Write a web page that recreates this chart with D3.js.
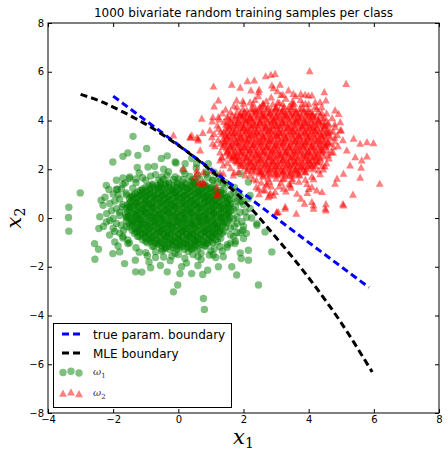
<!DOCTYPE html>
<html>
<head>
<meta charset="utf-8">
<script src="https://cdn.jsdelivr.net/npm/d3@7"></script>
<style>
  body { margin: 0; background: #fff; }
  text { font-family: "DejaVu Sans", sans-serif; }
</style>
</head>
<body>
<svg id="chart"></svg>
<script>
// tick values
const xTicks = [-4, -2, 0, 2, 4, 6, 8];
const yTicks = [-8, -6, -4, -2, 0, 2, 4, 6, 8];

// decision boundaries
const trueX = [-2.0, 5.85];
const trueY = [5.0, -2.85];
const mleX = [-3.0, -2.5, -2.0, -1.0, 0.0, 1.0, 2.0, 3.0, 4.0, 5.0, 5.95];
const mleY = [5.07, 4.85, 4.55, 3.85, 2.98, 1.95, 0.72, -0.8, -2.45, -4.3, -6.32];

// class omega_1 (green circles): scattered samples
const class1 = [
  [-1.2,1.85],[-0.7,1.78],[-0.3,1.9],[0.2,1.82],[0.6,1.75],[1.1,1.88],
  [-1.5,1.62],[-1.0,1.55],[-0.5,1.68],[0.0,1.6],[0.4,1.52],[0.9,1.65],[1.3,1.58],
  [-1.7,1.38],[-1.3,1.45],[-0.8,1.35],[-0.4,1.42],[0.1,1.33],[0.5,1.46],[0.8,1.37],[1.2,1.44],[1.6,1.32],
  [-1.9,1.18],[-1.4,1.22],[-1.1,1.12],[-0.6,1.25],[-0.2,1.15],[0.3,1.21],[0.7,1.1],[1.0,1.24],[1.4,1.16],[1.7,1.08],
  [-2.0,0.98],[-1.6,1.03],[-1.2,0.94],[-0.9,1.02],[-0.5,0.95],[-0.1,1.05],[0.2,0.92],[0.6,1.0],[0.9,0.9],[1.3,1.04],[1.6,0.96],[1.9,0.88],
  [-1.8,0.78],[-1.4,0.84],[-1.0,0.74],[-0.7,0.82],[-0.3,0.76],[0.0,0.85],[0.4,0.72],[0.8,0.8],[1.1,0.73],[1.5,0.83],[1.8,0.7],
  [-2.1,0.6],[-1.7,0.55],[-1.3,0.63],[-0.9,0.57],[-0.5,0.64],[-0.2,0.53],[0.2,0.62],[0.5,0.55],[0.9,0.65],[1.2,0.52],[1.6,0.6],[2.0,0.55],
  [-1.9,0.38],[-1.5,0.44],[-1.1,0.35],[-0.8,0.42],[-0.4,0.33],[-0.1,0.45],[0.3,0.36],[0.7,0.43],[1.0,0.32],[1.4,0.4],[1.7,0.34],
  [-2.2,0.18],[-1.8,0.24],[-1.3,0.15],[-1.0,0.22],[-0.6,0.14],[-0.3,0.25],[0.1,0.17],[0.4,0.23],[0.8,0.12],[1.1,0.2],[1.5,0.16],[1.9,0.24],
  [-2.0,-0.02],[-1.6,0.04],[-1.2,-0.05],[-0.8,0.03],[-0.5,-0.04],[-0.1,0.05],[0.2,-0.03],[0.6,0.04],[0.9,-0.06],[1.3,0.02],[1.7,-0.04],[2.1,0.03],
  [-1.9,-0.22],[-1.4,-0.16],[-1.1,-0.25],[-0.7,-0.17],[-0.3,-0.24],[0.0,-0.15],[0.4,-0.23],[0.7,-0.14],[1.1,-0.26],[1.5,-0.18],[1.8,-0.22],
  [-2.0,-0.42],[-1.6,-0.36],[-1.2,-0.45],[-0.9,-0.37],[-0.5,-0.44],[-0.2,-0.35],[0.2,-0.43],[0.5,-0.34],[0.9,-0.46],[1.2,-0.38],[1.6,-0.42],[2.0,-0.35],
  [-1.8,-0.62],[-1.3,-0.56],[-1.0,-0.65],[-0.6,-0.57],[-0.3,-0.64],[0.1,-0.55],[0.4,-0.66],[0.8,-0.58],[1.1,-0.63],[1.4,-0.55],[1.8,-0.6],
  [-1.7,-0.82],[-1.2,-0.76],[-0.8,-0.85],[-0.4,-0.77],[0.0,-0.84],[0.3,-0.75],[0.6,-0.86],[1.0,-0.78],[1.3,-0.83],[1.7,-0.76],
  [-1.5,-1.02],[-1.0,-0.96],[-0.6,-1.05],[-0.2,-0.97],[0.2,-1.04],[0.5,-0.95],[0.9,-1.06],[1.2,-0.98],[1.6,-1.03],
  [-1.3,-1.22],[-0.8,-1.16],[-0.4,-1.25],[0.0,-1.17],[0.4,-1.24],[0.8,-1.15],[1.1,-1.26],[1.5,-1.2],
  [-1.0,-1.42],[-0.5,-1.36],[-0.1,-1.45],[0.3,-1.37],[0.7,-1.44],[1.0,-1.35],
  [-0.7,-1.62],[-0.2,-1.56],[0.2,-1.65],[0.6,-1.58],
  [-1.39,3.35],[-0.97,2.85],[-1.55,2.67],[-1.70,2.53],[-1.24,2.57],[-2.01,2.30],[-1.26,2.07],[-0.34,2.55],
  [-0.52,2.44],[-3.01,1.03],[-2.21,1.34],[-2.37,0.73],[-1.90,1.55],[-1.70,1.64],[-2.13,1.17],[-2.31,0.52],
  [-0.93,2.09],[-0.73,2.12],[-1.49,1.68],[-1.87,1.17],[-1.63,1.44],[-0.07,2.26],
  [-3.36,0.44],[-3.37,0.02],[-3.36,-0.54],[-2.44,-0.43],[-2.57,-1.05],[-2.45,-1.28],[-2.56,-1.69],[-1.65,-1.87],
  [-1.32,-1.73],[-1.31,-2.21],[-1.12,-2.22],[-0.85,-2.04],[-0.34,-2.21],[-2.01,-1.46],[-2.11,-0.70],[-1.95,-0.98],
  [-2.21,-0.16],[-2.41,0.05],[-1.80,-1.39],[-1.55,-1.05],
  [0.77,-3.30],[0.80,-3.75],[-0.02,-2.75],[-0.15,-3.03],[2.46,-2.75],[1.79,-2.34],[1.64,-2.0],[2.15,-1.73],
  [2.15,-1.32],[0.41,-2.28],[0.05,-2.28],[2.87,-1.39],[2.41,-0.30],[2.66,-0.57],[0.75,-2.32],[0.90,-2.14],
  [1.23,-2.0],[1.74,-1.05],[1.90,-1.43],[1.93,-1.66],[1.38,-1.59],[1.28,-1.18],[1.07,-1.52],
  [2.0,-0.84],[2.41,-0.23],[1.98,-0.5],[2.09,-0.63],
  [-0.10,2.30],[0.21,2.23],[0.56,2.23],[0.87,1.89],[1.07,1.55],[1.38,1.41],[1.90,1.82],[2.15,1.48],
  [2.20,0.93],[2.15,0.80],[1.90,0.66],[2.20,0.39],[0.41,2.44],[0.92,2.23]
];

// class omega_1 samples around the edge of the dense part
const class1Ring = [
  [-1.1,1.65],[-0.85,1.72],[-0.6,1.55],[-0.35,1.75],[-0.1,1.68],[0.15,1.95],[0.35,1.7],[0.65,1.6],
  [0.85,1.8],[1.05,1.55],[1.25,1.72],[-0.45,2.0],[0.55,2.05],[-1.3,1.6],[1.45,1.45],
  [-1.75,1.2],[-1.85,0.95],[-1.95,0.7],[-1.72,0.45],[-2.05,0.3],[-1.8,0.1],[-2.1,-0.1],[-1.75,-0.3],
  [-1.95,-0.55],[-1.7,-0.75],[-1.55,-0.9],[-1.85,-1.15],[-2.25,0.85],[-2.3,-0.35],[-1.6,0.95],[-1.68,-0.5],
  [1.72,1.25],[1.85,1.0],[1.7,0.8],[1.95,0.7],[1.75,0.45],[2.05,0.25],[1.8,0.05],[1.95,-0.15],
  [1.72,-0.35],[1.9,-0.6],[1.6,-0.7],[1.75,-0.95],[1.5,-1.1],[1.35,-1.35],[2.25,0.0],
  [-1.2,-1.4],[-0.95,-1.55],[-0.7,-1.38],[-0.45,-1.6],[-0.25,-1.75],[0.0,-1.5],[0.25,-1.85],[0.45,-1.5],
  [0.7,-1.7],[0.95,-1.52],[1.15,-1.62],[-0.9,-1.8],[0.1,-2.0],[-0.55,-1.95],[0.6,-1.95]
];

// class omega_1 dense core, row by row (y value, then the x values on that row)
const class1CoreY = [1.45, 1.32, 1.19, 1.06, 0.93, 0.80, 0.67, 0.54, 0.41, 0.28, 0.15, 0.02,
  -0.11, -0.24, -0.37, -0.50, -0.63, -0.76, -0.89, -1.02, -1.15, -1.28,
  1.58, 1.39, 1.26, 1.13, 1.00, 0.87, 0.74, 0.61, 0.48, 0.35, 0.22, 0.09,
  -0.04, -0.17, -0.30, -0.43, -0.56, -0.69, -0.82, -0.95, -1.08, -1.21];
const class1CoreX = [
  [-0.55,-0.3,-0.05,0.2,0.45],
  [-0.9,-0.63,-0.4,-0.14,0.1,0.37,0.6,0.86],
  [-1.1,-0.86,-0.62,-0.41,-0.17,0.05,0.28,0.5,0.73,0.94,1.12],
  [-1.26,-1.02,-0.79,-0.57,-0.36,-0.12,0.11,0.33,0.54,0.78,1.0,1.21],
  [-1.4,-1.16,-0.95,-0.73,-0.49,-0.28,-0.06,0.18,0.39,0.62,0.86,1.07,1.3],
  [-1.5,-1.28,-1.04,-0.82,-0.61,-0.37,-0.15,0.08,0.29,0.53,0.74,0.98,1.19,1.42],
  [-1.46,-1.21,-1.0,-0.77,-0.55,-0.34,-0.1,0.12,0.36,0.57,0.81,1.02,1.24,1.48],
  [-1.56,-1.33,-1.1,-0.87,-0.66,-0.42,-0.2,0.03,0.24,0.48,0.69,0.93,1.14,1.37,1.58],
  [-1.6,-1.38,-1.15,-0.93,-0.7,-0.48,-0.26,-0.03,0.19,0.42,0.64,0.87,1.09,1.32,1.55],
  [-1.55,-1.31,-1.09,-0.86,-0.64,-0.41,-0.19,0.04,0.26,0.49,0.71,0.94,1.16,1.39,1.61],
  [-1.62,-1.4,-1.17,-0.95,-0.72,-0.5,-0.27,-0.05,0.18,0.4,0.63,0.85,1.08,1.3,1.53],
  [-1.57,-1.34,-1.12,-0.89,-0.67,-0.44,-0.22,0.01,0.23,0.46,0.68,0.91,1.13,1.36,1.58],
  [-1.6,-1.37,-1.15,-0.92,-0.7,-0.47,-0.25,-0.02,0.2,0.43,0.65,0.88,1.1,1.33,1.55],
  [-1.52,-1.3,-1.07,-0.85,-0.62,-0.4,-0.17,0.05,0.28,0.5,0.73,0.95,1.18,1.4],
  [-1.48,-1.25,-1.03,-0.8,-0.58,-0.35,-0.13,0.1,0.32,0.55,0.77,1.0,1.22,1.45],
  [-1.42,-1.2,-0.97,-0.75,-0.52,-0.3,-0.07,0.15,0.38,0.6,0.83,1.05,1.28],
  [-1.35,-1.12,-0.9,-0.67,-0.45,-0.22,0.0,0.23,0.45,0.68,0.9,1.13,1.35],
  [-1.25,-1.02,-0.8,-0.57,-0.35,-0.12,0.1,0.33,0.55,0.78,1.0,1.23],
  [-1.1,-0.87,-0.65,-0.42,-0.2,0.03,0.25,0.48,0.7,0.93,1.15],
  [-0.95,-0.72,-0.5,-0.27,-0.05,0.18,0.4,0.63,0.85,1.05],
  [-0.75,-0.52,-0.3,-0.07,0.15,0.38,0.6,0.83],
  [-0.5,-0.27,-0.05,0.18,0.4,0.6],
  [-0.45,-0.15,0.15,0.45],
  [-0.8,-0.55,-0.28,-0.02,0.24,0.5,0.74],
  [-1.0,-0.75,-0.52,-0.29,-0.06,0.16,0.39,0.62,0.84,1.04],
  [-1.17,-0.94,-0.71,-0.48,-0.25,-0.02,0.21,0.44,0.66,0.88,1.12,1.3],
  [-1.33,-1.1,-0.87,-0.64,-0.41,-0.18,0.05,0.28,0.5,0.72,0.95,1.17,1.38],
  [-1.45,-1.22,-0.99,-0.76,-0.53,-0.3,-0.07,0.16,0.39,0.61,0.84,1.06,1.29,1.5],
  [-1.38,-1.15,-0.92,-0.69,-0.46,-0.23,0.0,0.23,0.46,0.69,0.92,1.14,1.36,1.56],
  [-1.5,-1.27,-1.04,-0.81,-0.58,-0.35,-0.12,0.11,0.34,0.57,0.8,1.03,1.26,1.5],
  [-1.46,-1.23,-1.0,-0.77,-0.54,-0.31,-0.08,0.15,0.38,0.61,0.84,1.07,1.3,1.52],
  [-1.5,-1.27,-1.04,-0.81,-0.58,-0.35,-0.12,0.11,0.34,0.57,0.8,1.03,1.26,1.48],
  [-1.45,-1.22,-0.99,-0.76,-0.53,-0.3,-0.07,0.16,0.39,0.62,0.85,1.08,1.31,1.55],
  [-1.52,-1.29,-1.06,-0.83,-0.6,-0.37,-0.14,0.09,0.32,0.55,0.78,1.01,1.24,1.47],
  [-1.47,-1.24,-1.01,-0.78,-0.55,-0.32,-0.09,0.14,0.37,0.6,0.83,1.06,1.29,1.5],
  [-1.44,-1.21,-0.98,-0.75,-0.52,-0.29,-0.06,0.17,0.4,0.63,0.86,1.09,1.32],
  [-1.4,-1.17,-0.94,-0.71,-0.48,-0.25,-0.02,0.21,0.44,0.67,0.9,1.13,1.36],
  [-1.33,-1.1,-0.87,-0.64,-0.41,-0.18,0.05,0.28,0.51,0.74,0.97,1.2],
  [-1.25,-1.02,-0.79,-0.56,-0.33,-0.1,0.13,0.36,0.59,0.82,1.05,1.27],
  [-1.15,-0.92,-0.69,-0.46,-0.23,0.0,0.23,0.46,0.69,0.92,1.15],
  [-1.02,-0.79,-0.56,-0.33,-0.1,0.13,0.36,0.59,0.82,1.05],
  [-0.85,-0.62,-0.39,-0.16,0.07,0.3,0.53,0.76,0.98],
  [-0.65,-0.42,-0.19,0.04,0.27,0.5,0.72],
  [-0.4,-0.17,0.06,0.29,0.5]
];

// class omega_2 (red triangles): scattered samples
const class2 = [
  [2.2,4.75],[2.7,4.8],[3.1,4.72],[3.5,4.78],[3.9,4.7],
  [1.8,4.55],[2.3,4.5],[2.6,4.6],[3.0,4.52],[3.4,4.58],[3.8,4.5],[4.2,4.56],
  [1.6,4.35],[2.0,4.3],[2.4,4.4],[2.8,4.32],[3.2,4.38],[3.6,4.3],[4.0,4.36],[4.4,4.32],
  [1.5,4.15],[1.9,4.2],[2.2,4.1],[2.6,4.18],[3.0,4.12],[3.3,4.2],[3.7,4.1],[4.1,4.17],[4.5,4.12],
  [1.4,3.95],[1.8,3.9],[2.1,4.0],[2.5,3.92],[2.9,3.98],[3.2,3.9],[3.6,3.96],[3.9,3.92],[4.3,3.98],[4.6,3.9],
  [1.6,3.75],[2.0,3.7],[2.3,3.8],[2.7,3.72],[3.0,3.78],[3.4,3.7],[3.8,3.76],[4.1,3.72],[4.5,3.78],
  [1.3,3.55],[1.7,3.5],[2.1,3.6],[2.4,3.52],[2.8,3.58],[3.1,3.5],[3.5,3.56],[3.9,3.52],[4.2,3.58],[4.6,3.5],
  [1.5,3.35],[1.9,3.3],[2.2,3.4],[2.6,3.32],[3.0,3.38],[3.3,3.3],[3.7,3.36],[4.0,3.32],[4.4,3.38],[4.8,3.3],
  [1.4,3.15],[1.8,3.1],[2.1,3.2],[2.5,3.12],[2.8,3.18],[3.2,3.1],[3.6,3.16],[3.9,3.12],[4.3,3.18],[4.6,3.1],
  [1.6,2.95],[2.0,2.9],[2.3,3.0],[2.7,2.92],[3.0,2.98],[3.4,2.9],[3.8,2.96],[4.1,2.92],[4.5,2.98],
  [1.5,2.75],[1.9,2.7],[2.2,2.8],[2.6,2.72],[2.9,2.78],[3.3,2.7],[3.6,2.76],[4.0,2.72],[4.4,2.78],[4.7,2.7],
  [1.7,2.55],[2.1,2.5],[2.4,2.6],[2.8,2.52],[3.1,2.58],[3.5,2.5],[3.9,2.56],[4.2,2.52],[4.6,2.58],
  [1.8,2.35],[2.2,2.3],[2.5,2.4],[2.9,2.32],[3.2,2.38],[3.6,2.3],[4.0,2.36],[4.3,2.32],
  [1.9,2.15],[2.3,2.1],[2.7,2.2],[3.0,2.12],[3.4,2.18],[3.8,2.1],[4.1,2.16],[4.5,2.12],
  [2.1,1.95],[2.5,1.9],[2.8,2.0],[3.2,1.92],[3.6,1.98],[3.9,1.9],[4.3,1.96],
  [2.2,1.75],[2.6,1.7],[3.0,1.8],[3.4,1.72],[3.7,1.78],[4.1,1.7],
  [2.4,1.55],[2.8,1.5],[3.2,1.6],[3.5,1.52],[3.9,1.58],
  [2.7,1.35],[3.1,1.3],[3.4,1.4],
  [4.03,6.03],[2.97,5.92],[2.84,5.88],[2.68,5.82],[5.15,5.51],[1.08,5.40],[1.64,5.48],[2.12,5.62],
  [2.33,5.65],[1.90,5.35],[3.12,5.47],[2.87,5.44],[2.23,5.24],[2.46,5.17],[1.23,4.83],[1.10,4.58],
  [0.72,4.08],[1.06,4.14],[0.75,3.50],[0.38,3.30],[0.61,3.19],[1.03,3.32],[0.97,3.60],[1.23,3.67],
  [1.33,2.50],[1.38,2.16],[1.71,1.86],[1.28,1.85],[1.18,0.98],[0.67,1.41],[0.51,1.68],[3.02,0.21],
  [3.62,0.18],[3.28,0.46],[3.87,0.59],[4.15,0.52],[4.53,0.32],[4.53,0.57],[5.05,0.57],[5.36,0.96],
  [6.18,1.41],[5.58,1.66],[4.81,1.41],[4.41,1.07],[4.10,1.27],[3.64,1.00],[2.92,0.93],[2.80,0.93],
  [2.48,0.98],[2.39,1.27],[5.38,3.26],[5.58,3.05],[5.79,3.12],[5.99,3.08],[5.43,2.50],[5.63,2.37],
  [5.79,2.53],[5.61,2.07],[5.27,2.16],[5.07,1.82],[4.81,4.42],[4.92,4.28],[4.48,5.17],[4.53,4.83],
  [4.35,4.76],[4.10,5.03],[3.76,5.10],[3.53,5.10],[3.38,5.24],[3.21,5.06],[4.81,3.73],[4.97,3.60],
  [4.97,3.94],[5.17,2.78],[4.76,2.91],[2.92,5.33],[3.04,5.21],[2.48,5.27],[1.79,4.83],[1.98,4.80],
  [1.04,3.97],[1.23,4.14],[0.41,3.39],[0.57,3.30],[3.89,5.06],[3.99,5.03],
  [5.07,0.52],[4.51,0.39],[4.15,0.39],[4.10,0.66],[3.76,0.80],[3.96,1.03],[3.28,0.39],[3.02,0.25],
  [4.25,1.14],[4.87,1.62],[2.97,1.07],[2.82,1.03],[2.66,1.14],[3.23,1.21],[3.43,1.34],[2.46,1.21],
  [2.72,1.41],[0.57,1.96],[0.77,1.48],[1.23,1.00],[1.03,1.96],[1.38,1.82],[1.69,1.75],
  [-0.15,3.39],[0.36,3.32],[0.61,3.26],[0.15,2.03],[0.67,2.78],[0.77,1.41],[1.18,0.93],[0.57,1.82],
  [1.28,2.37],[1.74,2.50],[2.76,0.86],[3.07,0.25],[0.61,1.48],[1.18,1.27],[0.77,1.89]
];

// class omega_2 samples around the edge of the dense part
const class2Ring = [
  [2.0,4.7],[2.35,4.85],[2.6,4.7],[2.85,4.95],[3.05,4.75],[3.3,4.9],[3.55,4.7],[3.75,4.85],
  [4.0,4.68],[4.2,4.75],[2.45,5.0],[3.15,5.05],[1.7,4.6],[4.4,4.55],[3.6,5.0],
  [1.35,4.3],[1.25,4.05],[1.2,3.8],[1.1,3.45],[1.22,3.2],[1.12,2.95],[1.28,2.7],[1.35,2.45],
  [1.5,2.25],[1.6,2.05],[1.05,3.05],[1.45,4.45],
  [4.55,4.3],[4.72,4.1],[4.8,3.85],[4.75,3.55],[4.88,3.4],[4.8,3.15],[4.9,2.95],[4.75,2.7],
  [4.62,2.45],[4.55,2.25],[4.45,2.0],[4.35,1.8],[5.0,3.6],[5.05,3.2],
  [1.85,1.9],[2.05,1.75],[2.3,1.6],[2.55,1.45],[2.85,1.3],[3.15,1.45],[3.45,1.25],[3.7,1.5],
  [3.95,1.4],[4.15,1.6],[3.3,1.1],[2.6,1.15],[4.0,1.2]
];

// class omega_2 dense core, row by row
const class2CoreY = [4.55, 4.42, 4.29, 4.16, 4.03, 3.90, 3.77, 3.64, 3.51, 3.38, 3.25, 3.12,
  2.99, 2.86, 2.73, 2.60, 2.47, 2.34, 2.21, 2.08, 1.95, 1.82,
  4.68, 4.48, 4.35, 4.22, 4.09, 3.96, 3.83, 3.70, 3.57, 3.44, 3.31, 3.18,
  3.05, 2.92, 2.79, 2.66, 2.53, 2.40, 2.27, 2.14, 2.01, 1.88, 1.75, 1.62];
const class2CoreX = [
  [2.5,2.75,3.0,3.25,3.5],
  [2.1,2.36,2.6,2.86,3.1,3.37,3.6,3.86],
  [1.9,2.14,2.38,2.6,2.83,3.05,3.28,3.5,3.73,3.95,4.12],
  [1.75,1.98,2.21,2.43,2.64,2.88,3.11,3.33,3.54,3.78,4.0,4.22],
  [1.6,1.84,2.05,2.27,2.51,2.72,2.94,3.18,3.39,3.62,3.86,4.07,4.3],
  [1.5,1.72,1.96,2.18,2.39,2.63,2.85,3.08,3.29,3.53,3.74,3.98,4.19,4.42],
  [1.54,1.79,2.0,2.23,2.45,2.66,2.9,3.12,3.36,3.57,3.81,4.02,4.24,4.48],
  [1.44,1.67,1.9,2.13,2.34,2.58,2.8,3.03,3.24,3.48,3.69,3.93,4.14,4.37,4.58],
  [1.4,1.62,1.85,2.07,2.3,2.52,2.74,2.97,3.19,3.42,3.64,3.87,4.09,4.32,4.55],
  [1.45,1.69,1.91,2.14,2.36,2.59,2.81,3.04,3.26,3.49,3.71,3.94,4.16,4.39,4.61],
  [1.38,1.6,1.83,2.05,2.28,2.5,2.73,2.95,3.18,3.4,3.63,3.85,4.08,4.3,4.53],
  [1.43,1.66,1.88,2.11,2.33,2.56,2.78,3.01,3.23,3.46,3.68,3.91,4.13,4.36,4.58],
  [1.4,1.63,1.85,2.08,2.3,2.53,2.75,2.98,3.2,3.43,3.65,3.88,4.1,4.33,4.55],
  [1.48,1.7,1.93,2.15,2.38,2.6,2.83,3.05,3.28,3.5,3.73,3.95,4.18,4.4],
  [1.52,1.75,1.97,2.2,2.42,2.65,2.87,3.1,3.32,3.55,3.77,4.0,4.22,4.45],
  [1.58,1.8,2.03,2.25,2.48,2.7,2.93,3.15,3.38,3.6,3.83,4.05,4.28],
  [1.65,1.88,2.1,2.33,2.55,2.78,3.0,3.23,3.45,3.68,3.9,4.13,4.35],
  [1.75,1.98,2.2,2.43,2.65,2.88,3.1,3.33,3.55,3.78,4.0,4.23],
  [1.9,2.13,2.35,2.58,2.8,3.03,3.25,3.48,3.7,3.93,4.15],
  [2.05,2.28,2.5,2.73,2.95,3.18,3.4,3.63,3.85,4.05],
  [2.25,2.48,2.7,2.93,3.15,3.38,3.6,3.83],
  [2.5,2.73,2.95,3.18,3.4,3.6],
  [2.3,2.6,2.9,3.2,3.5,3.8],
  [1.98,2.24,2.48,2.73,2.98,3.22,3.48,3.73,3.98,4.25],
  [1.8,2.03,2.27,2.5,2.72,2.96,3.17,3.4,3.62,3.85,4.07,4.3],
  [1.65,1.88,2.1,2.32,2.55,2.77,3.0,3.22,3.44,3.67,3.9,4.12,4.36],
  [1.52,1.74,1.96,2.18,2.4,2.62,2.84,3.06,3.28,3.5,3.73,3.96,4.18,4.42],
  [1.61,1.84,2.07,2.29,2.51,2.74,2.96,3.19,3.41,3.64,3.86,4.09,4.31,4.52],
  [1.46,1.67,1.9,2.12,2.34,2.56,2.79,3.01,3.24,3.46,3.69,3.91,4.14,4.36,4.6],
  [1.55,1.78,2.0,2.23,2.45,2.68,2.9,3.13,3.35,3.58,3.8,4.03,4.25,4.48],
  [1.51,1.74,1.96,2.19,2.41,2.64,2.86,3.09,3.31,3.54,3.76,3.98,4.21,4.43,4.66],
  [1.34,1.57,1.8,2.02,2.25,2.47,2.7,2.92,3.15,3.37,3.6,3.82,4.05,4.27,4.5],
  [1.5,1.72,1.94,2.17,2.39,2.62,2.84,3.07,3.29,3.52,3.74,3.97,4.19,4.42,4.67],
  [1.52,1.75,1.97,2.2,2.42,2.65,2.87,3.1,3.32,3.55,3.77,4.0,4.22,4.45],
  [1.3,1.52,1.74,1.97,2.19,2.42,2.64,2.87,3.09,3.32,3.54,3.77,3.99,4.22,4.44,4.66],
  [1.37,1.59,1.82,2.04,2.27,2.49,2.72,2.94,3.17,3.39,3.62,3.84,4.07,4.29,4.52],
  [1.63,1.86,2.08,2.31,2.53,2.76,2.98,3.21,3.43,3.66,3.88,4.11,4.33,4.57],
  [1.47,1.69,1.92,2.14,2.37,2.59,2.82,3.04,3.27,3.49,3.72,3.94,4.17,4.39],
  [1.54,1.77,1.99,2.22,2.44,2.67,2.89,3.12,3.34,3.57,3.79,4.02,4.24,4.47],
  [1.64,1.87,2.09,2.32,2.54,2.77,2.99,3.22,3.44,3.67,3.89,4.12,4.36],
  [1.8,2.02,2.25,2.47,2.7,2.92,3.15,3.37,3.6,3.82,4.05,4.27],
  [1.96,2.18,2.41,2.63,2.86,3.08,3.31,3.53,3.76,3.98,4.2,4.42],
  [2.14,2.37,2.59,2.82,3.04,3.27,3.49,3.72,3.94,4.15],
  [2.33,2.56,2.78,3.01,3.23,3.46,3.68,3.9],
  [2.6,2.83,3.05,3.28,3.5,3.72],
  [2.75,3.0,3.25,3.5]
];

const legendLabels = ["true param. boundary", "MLE boundary"];

// full point lists
const green = class1CoreY.flatMap((yv, i) => class1CoreX[i].map(xv => [xv, yv])).concat(class1Ring, class1);
const red = class2CoreY.flatMap((yv, i) => class2CoreX[i].map(xv => [xv, yv])).concat(class2Ring, class2);

const margin = {top: 23, right: 9, bottom: 45, left: 48};
const width = 448 - margin.left - margin.right;
const height = 458 - margin.top - margin.bottom;

const svg = d3.select("#chart")
  .attr("width", 448)
  .attr("height", 458);

const g = svg.append("g")
  .attr("transform", "translate(" + margin.left + "," + margin.top + ")");

const x = d3.scaleLinear().domain([-4, 8]).range([0, width]);
const y = d3.scaleLinear().domain([-8, 8]).range([height, 0]);

svg.append("defs").append("clipPath").attr("id", "plotclip")
  .append("rect").attr("width", width).attr("height", height);

// axes with inward ticks on all four sides
g.append("g")
  .attr("transform", "translate(0," + height + ")")
  .call(d3.axisBottom(x).tickValues(xTicks).tickSizeInner(-4).tickSizeOuter(0).tickPadding(3))
  .call(a => a.select(".domain").remove())
  .style("font-size", "10px");

g.append("g")
  .call(d3.axisLeft(y).tickValues(yTicks).tickSizeInner(-4).tickSizeOuter(0).tickPadding(4))
  .call(a => a.select(".domain").remove())
  .style("font-size", "10px");

g.append("g")
  .call(d3.axisTop(x).tickValues(xTicks).tickSizeInner(-4).tickSizeOuter(0).tickFormat(""))
  .call(a => a.select(".domain").remove());

g.append("g")
  .attr("transform", "translate(" + width + ",0)")
  .call(d3.axisRight(y).tickValues(yTicks).tickSizeInner(-4).tickSizeOuter(0).tickFormat(""))
  .call(a => a.select(".domain").remove());

g.selectAll(".tick text").attr("font-family", "DejaVu Sans").attr("fill", "#000");

const plot = g.append("g").attr("clip-path", "url(#plotclip)");

// green circles
plot.append("g")
  .selectAll("circle")
  .data(green)
  .enter()
  .append("circle")
  .attr("cx", d => x(d[0]))
  .attr("cy", d => y(d[1]))
  .attr("r", 3.7)
  .style("fill", "green")
  .style("fill-opacity", 0.5);

// red triangles
const tri = "M0,-4L3.9,3.2L-3.9,3.2Z";
plot.append("g")
  .selectAll("path")
  .data(red)
  .enter()
  .append("path")
  .attr("d", tri)
  .attr("transform", d => "translate(" + x(d[0]) + "," + y(d[1]) + ")")
  .style("fill", "red")
  .style("fill-opacity", 0.5);

// boundaries
plot.append("path")
  .datum(trueX.map((v, i) => [v, trueY[i]]))
  .attr("d", d3.line().x(d => x(d[0])).y(d => y(d[1])))
  .attr("fill", "none")
  .attr("stroke", "blue")
  .attr("stroke-width", 3)
  .attr("stroke-dasharray", "7,4");

plot.append("path")
  .datum(mleX.map((v, i) => [v, mleY[i]]))
  .attr("d", d3.line().curve(d3.curveCatmullRom).x(d => x(d[0])).y(d => y(d[1])))
  .attr("fill", "none")
  .attr("stroke", "black")
  .attr("stroke-width", 3)
  .attr("stroke-dasharray", "7,4");

// frame
g.append("rect")
  .attr("width", width)
  .attr("height", height)
  .attr("fill", "none")
  .attr("stroke", "black")
  .attr("stroke-width", 1);

// title
svg.append("text")
  .attr("x", margin.left + width / 2)
  .attr("y", 17)
  .attr("text-anchor", "middle")
  .style("font-size", "12px")
  .text("1000 bivariate random training samples per class");

// axis labels
const xl = svg.append("text")
  .attr("x", margin.left + width / 2)
  .attr("y", 444)
  .attr("text-anchor", "middle")
  .style("font-family", "'DejaVu Serif', serif");
xl.append("tspan").style("font-style", "italic").style("font-size", "21px").text("x");
xl.append("tspan").attr("dy", 4).style("font-size", "14px").text("1");

const yl = svg.append("text")
  .attr("transform", "translate(21," + (margin.top + height / 2) + ") rotate(-90)")
  .attr("text-anchor", "middle")
  .style("font-family", "'DejaVu Serif', serif");
yl.append("tspan").style("font-style", "italic").style("font-size", "21px").text("x");
yl.append("tspan").attr("dy", 4).style("font-size", "14px").text("2");

// legend
const lg = svg.append("g");
lg.append("rect")
  .attr("x", 53.5).attr("y", 323.5)
  .attr("width", 178).attr("height", 84)
  .attr("fill", "#fff").attr("stroke", "#000").attr("stroke-width", 1);

const lineColors = ["blue", "black"];
legendLabels.forEach((t, i) => {
  const yy = 334 + i * 19;
  lg.append("line")
    .attr("x1", 62).attr("x2", 81).attr("y1", yy).attr("y2", yy)
    .attr("stroke", lineColors[i]).attr("stroke-width", 3).attr("stroke-dasharray", "7,4");
  lg.append("text")
    .attr("x", 93).attr("y", yy + 4.5)
    .style("font-size", "12px")
    .text(t);
});

const markX = [63, 71, 79];
const markDy = [0.5, -0.8, 1];
markX.forEach((mx, i) => {
  lg.append("circle")
    .attr("cx", mx).attr("cy", 372 + markDy[i]).attr("r", 3.7)
    .style("fill", "green").style("fill-opacity", 0.5);
  lg.append("path")
    .attr("d", tri)
    .attr("transform", "translate(" + mx + "," + (393 + markDy[i]) + ")")
    .style("fill", "red").style("fill-opacity", 0.5);
});

[["ω", "1", 375], ["ω", "2", 396]].forEach(o => {
  const t = lg.append("text").attr("x", 93).attr("y", o[2])
    .style("font-family", "'DejaVu Serif', serif").attr("fill", "#333");
  t.append("tspan").style("font-style", "italic").style("font-size", "10px").text(o[0]);
  t.append("tspan").attr("dy", 3).style("font-size", "7px").text(o[1]);
});
</script>
</body>
</html>
